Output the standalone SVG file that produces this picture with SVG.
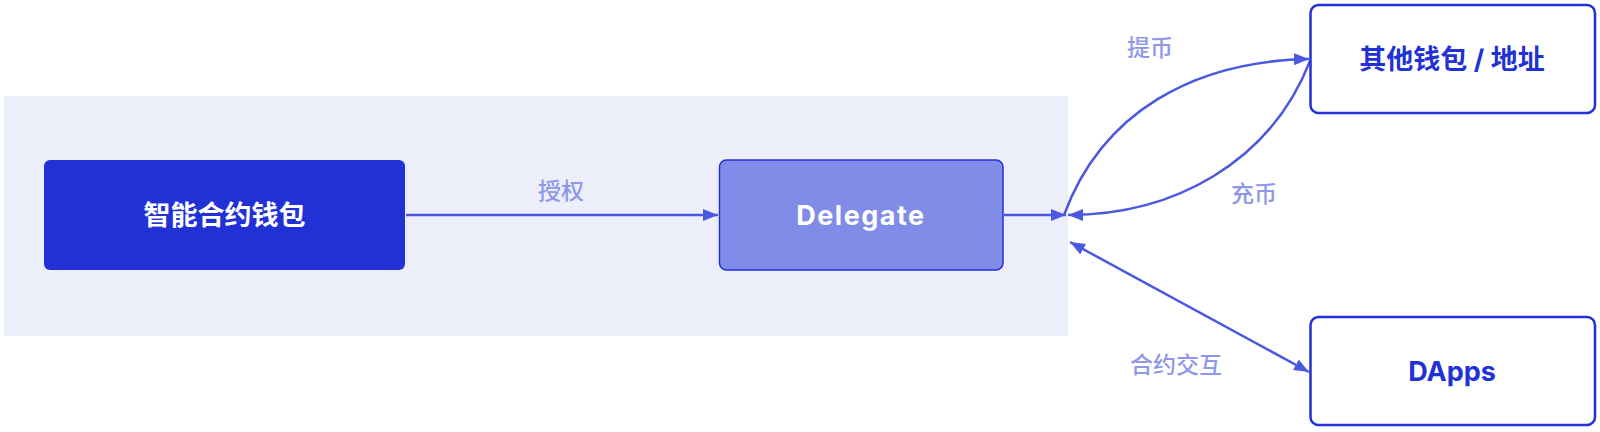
<svg xmlns="http://www.w3.org/2000/svg" width="1600" height="432" viewBox="0 0 1600 432">
<style>
.lbl{font-family:"Noto Sans CJK SC","Inter",sans-serif;font-size:23px;font-weight:500;fill:#8F97E8;text-anchor:middle;dominant-baseline:central}
.ntxt{font-family:"Inter","Noto Sans CJK SC",sans-serif;font-size:27px;font-weight:700;text-anchor:middle;dominant-baseline:central}
.edge{fill:none;stroke:#4B59E0;stroke-width:2.5}
</style>
<defs>
<marker id="ah" viewBox="0 0 15 13" refX="15" refY="6.5" markerWidth="15" markerHeight="13" markerUnits="userSpaceOnUse" orient="auto-start-reverse">
<path d="M0,0.5 L15,6.5 L0,12.5 Z" fill="#4B59E0"/>
</marker>
</defs>
<rect x="4" y="96" width="1064" height="240" fill="#ECEEFA"/>
<g id="edges">
<path class="edge" d="M406,215 H718" marker-end="url(#ah)"/>
<path class="edge" d="M1004,215 H1066" marker-end="url(#ah)"/>
<path class="edge" d="M1064,215 C1102,112 1194,61 1309,59" marker-end="url(#ah)"/>
<path class="edge" d="M1310,61 C1270,163 1173,215 1068,215" marker-end="url(#ah)"/>
<path class="edge" d="M1070,242 L1309,372" marker-start="url(#ah)" marker-end="url(#ah)"/>
<text class="lbl" x="561" y="189">授权</text>
<text class="lbl" x="1150" y="46">提币</text>
<text class="lbl" x="1254" y="192">充币</text>
<text class="lbl" x="1176" y="363">合约交互</text>
</g>
<g id="node-smart-wallet">
<rect x="44" y="160" width="361" height="110" rx="6" fill="#2131D6"/>
<text class="ntxt" x="224.5" y="215" fill="#FFFFFF">智能合约钱包</text>
</g>
<g id="node-delegate">
<rect x="719.5" y="160" width="283.5" height="110" rx="7" fill="#818CE8" stroke="#2131D6" stroke-width="1.5"/>
<text class="ntxt" x="861" y="215" fill="#FFFFFF" letter-spacing="1.5">Delegate</text>
</g>
<g id="node-other-wallet">
<rect x="1310.5" y="5" width="284.5" height="108" rx="8" fill="#FFFFFF" stroke="#2131D6" stroke-width="2.5"/>
<text class="ntxt" x="1452" y="59" fill="#2131D6">其他钱包 / 地址</text>
</g>
<g id="node-dapps">
<rect x="1310.5" y="317" width="284.5" height="108" rx="8" fill="#FFFFFF" stroke="#2131D6" stroke-width="2.5"/>
<text class="ntxt" x="1452" y="371" fill="#2131D6">DApps</text>
</g>
</svg>
